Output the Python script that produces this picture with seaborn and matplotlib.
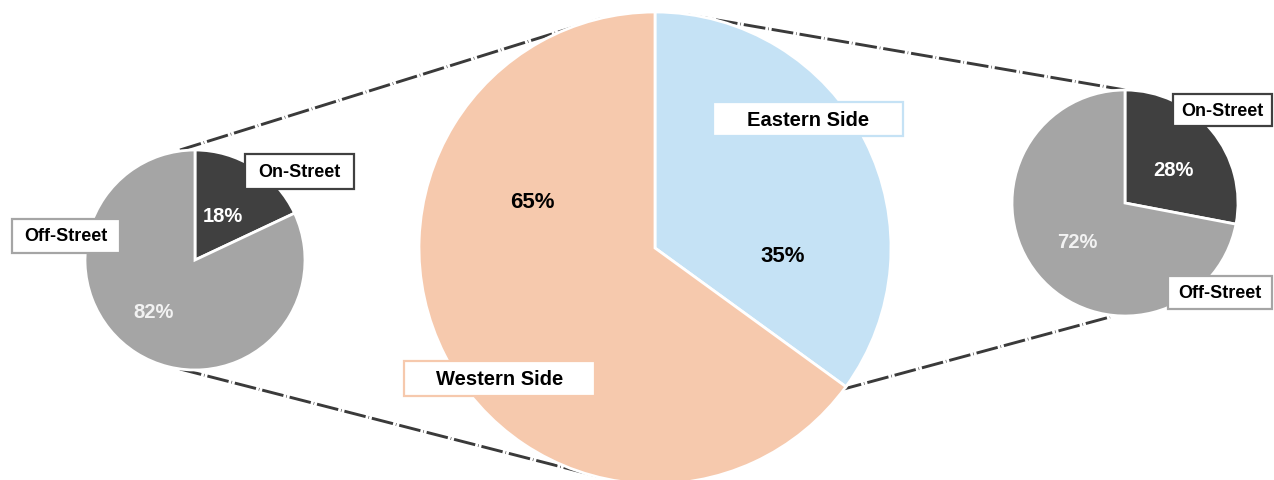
import matplotlib.pyplot as plt
import seaborn as sns
from matplotlib.patches import Rectangle

sns.set_theme(style="white")
plt.rcParams["font.family"] = ["Liberation Sans", "DejaVu Sans"]

# data
side_labels = ["Eastern Side", "Western Side"]
side_values = [35, 65]
west_labels = ["On-Street", "Off-Street"]
west_values = [18, 82]
east_labels = ["On-Street", "Off-Street"]
east_values = [28, 72]

# colours
side_colors = ["#C5E2F5", "#F6C9AD"]
street_colors = ["#404040", "#A5A5A5"]

W, H = 1274, 481


def fy(py):
    # picture pixels (y down) -> axes coords (y up)
    return H - py


fig = plt.figure(figsize=(W / 100, H / 100), dpi=100)
ax = fig.add_axes([0, 0, 1, 1])

# pies: (values, colours, centre x, centre y, radius)
pies = [
    (side_values, side_colors, 655, 249, 236),
    (west_values, street_colors, 195, 261, 110),
    (east_values, street_colors, 1125, 204, 113),
]
for vals, cols, cx, cy, r in pies:
    ax.pie(vals, colors=cols, startangle=90, counterclock=False,
           center=(cx, fy(cy)), radius=r,
           wedgeprops={"edgecolor": "white", "linewidth": 2, "zorder": 2})

# connector lines (drawn under the pies)
connectors = [
    ((180, 151), (600, 20)),
    ((180, 370), (597, 477)),
    ((688, 16), (1125, 91)),
    ((840, 391), (1110, 318)),
]
for (x0, y0), (x1, y1) in connectors:
    ax.plot([x0, x1], [fy(y0), fy(y1)], color="#3A3A3A", lw=2.1,
            linestyle=(0, (7.5, 1.0, 0.2, 1.0)), zorder=1)

# percentage labels
pct_pos = [
    (side_values[0], 783, 257, "black", 16),
    (side_values[1], 532, 202, "black", 16),
    (west_values[0], 223, 216, "white", 14.5),
    (west_values[1], 154, 312, "#F2F2F2", 14.5),
    (east_values[0], 1173, 171, "white", 14.5),
    (east_values[1], 1077, 243, "#F2F2F2", 14.5),
]
for v, x, y, c, fs in pct_pos:
    ax.text(x, fy(y), f"{v}%", ha="center", va="center", color=c,
            fontsize=fs, fontweight="bold", zorder=5)

# boxed category labels: text, box (x0, y0, x1, y1), edge colour, size
boxes = [
    (side_labels[0], (713, 103, 903, 137), side_colors[0], 14.5),
    (side_labels[1], (404, 362, 595, 397), side_colors[1], 14.5),
    (west_labels[0], (245, 155, 354, 190), street_colors[0], 13),
    (west_labels[1], (12, 220, 120, 254), street_colors[1], 13),
    (east_labels[0], (1173, 95, 1272, 127), street_colors[0], 13),
    (east_labels[1], (1168, 277, 1272, 310), street_colors[1], 13),
]
for txt, (x0, y0, x1, y1), ec, fs in boxes:
    ax.add_patch(Rectangle((x0, fy(y1)), x1 - x0, y1 - y0, facecolor="white",
                           edgecolor=ec, lw=1.6, zorder=4))
    ax.text((x0 + x1) / 2, fy((y0 + y1) / 2), txt, ha="center", va="center",
            color="black", fontsize=fs, fontweight="bold", zorder=5)

ax.set_xlim(0, W)
ax.set_ylim(0, H)
ax.set_aspect("equal")
ax.axis("off")

plt.savefig("out.png", dpi=100)
plt.close()
